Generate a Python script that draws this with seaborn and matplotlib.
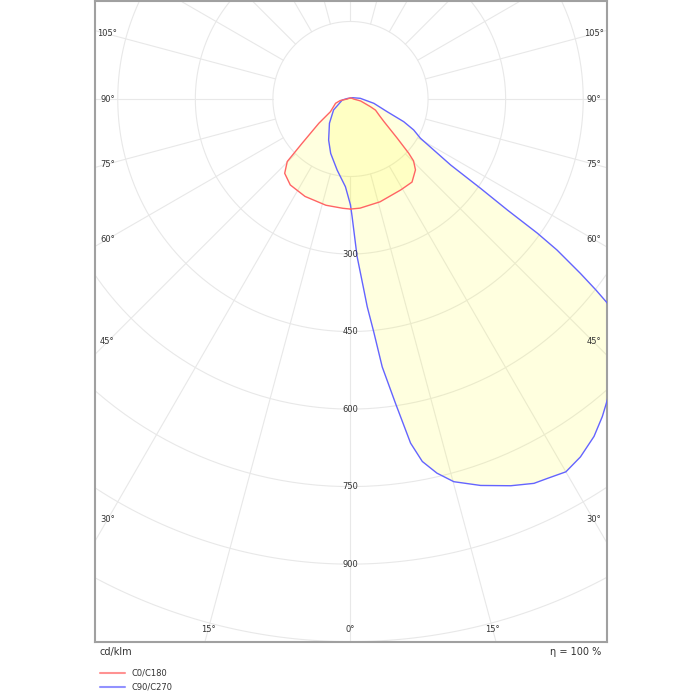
import numpy as np
import matplotlib.pyplot as plt
import seaborn as sns
from matplotlib.lines import Line2D

# luminous intensity, cd/klm, per gamma angle (0 = straight down)
c0_angles = [0, 5, 16, 29, 36.5, 42.5, 45.5, 47, 50, 56, 60, 66, 69, 79, 90, 120, 180]
c0_values = [213, 212, 207, 201, 200, 186, 171, 154, 118, 78, 65, 53, 41, 20, 6, 3, 2]

c180_angles = [0, 4, 13, 25, 35, 41.5, 45.3, 47.5, 52.5, 57.6, 74, 81.5, 90, 120, 180]
c180_values = [213, 212, 211, 208, 203, 192, 172, 127, 77, 46, 30, 20, 6, 3, 2]

c90_angles = [0, 0.8, 2.4, 4.0, 4.6, 5.7, 6.75, 8.4, 9.9, 11.2, 13.0, 15.1, 18.6, 22.5,
              25.5, 27.4, 30.0, 32.7, 35.8, 38.4, 40.5, 44, 48, 51.5, 52.1, 52.8, 53.8,
              54.3, 54.7, 55.5, 56.6, 60.7, 63.9, 66.9, 70.9, 79.5, 94, 120, 180]
c90_values = [205, 228, 305, 370, 403, 453, 522, 595, 676, 715, 743, 767, 789, 810,
              824, 827, 833, 823, 805, 784, 765, 735, 690, 635, 601, 558, 495,
              445, 372, 305, 232, 155, 136, 112, 75, 46, 19, 5, 2]

c270_angles = [0, 3.3, 10.6, 20, 28, 41, 57, 83, 100, 120, 180]
c270_values = [205, 170, 140, 112, 90, 62, 39, 16, 6, 3, 2]

ring_values = [150, 300, 450, 600, 750, 900, 1050, 1200]
ring_labels = [300, 450, 600, 750, 900]
angle_labels = [15, 30, 45, 60, 75, 90, 105]

red = "#ff6464"
blue = "#6464ff"
grid = "#e8e8e8"
txt = "#333333"


def outline(r_ang, r_val, l_ang, l_val):
    ra = np.radians(r_ang)
    la = np.radians(l_ang)[::-1]
    rv = np.array(r_val, dtype=float)
    lv = np.array(l_val, dtype=float)[::-1]
    x = np.concatenate([rv * np.sin(ra), -lv * np.sin(la)])
    y = np.concatenate([-rv * np.cos(ra), -lv * np.cos(la)])
    return x, y


sns.set_style("white")
fig = plt.figure(figsize=(7, 7), dpi=100)
ax = fig.add_axes([95 / 700, 58 / 700, 512 / 700, 641.5 / 700])

# polar grid
t = np.linspace(0, 2 * np.pi, 400)
for r in ring_values:
    ax.plot(r * np.sin(t), r * np.cos(t), color=grid, lw=0.8, zorder=1)
for a in range(0, 360, 15):
    ar = np.radians(a)
    ax.plot([150 * np.sin(ar), 1500 * np.sin(ar)], [-150 * np.cos(ar), -1500 * np.cos(ar)],
            color=grid, lw=0.8, zorder=1)

# curves
for (ra, rv, la, lv, col) in [(c90_angles, c90_values, c270_angles, c270_values, blue),
                              (c0_angles, c0_values, c180_angles, c180_values, red)]:
    x, y = outline(ra, rv, la, lv)
    ax.fill(x, y, color="#ffff20", alpha=0.14, lw=0, zorder=2)
    sns.lineplot(x=x, y=y, sort=False, estimator=None, color=col, lw=1.0, ax=ax,
                 legend=False, zorder=3)

# labels
for r in ring_labels:
    ax.text(0, -r, str(r), ha="center", va="center", fontsize=6, color=txt, zorder=4)
xin, ybot = 470, 1027
for a in angle_labels:
    ar = np.radians(a)
    s, c = np.sin(ar), np.cos(ar)
    d = xin / s
    if c > 0:
        d = min(d, ybot / c)
    for sign in (-1, 1):
        ax.text(sign * d * s, -d * c, f"{a}°", ha="center", va="center", fontsize=6,
                color=txt, zorder=4)
ax.text(0, -ybot, "0°", ha="center", va="center", fontsize=6, color=txt, zorder=4)

ax.set_xlim(-494, 496)
ax.set_ylim(-1050.7, 190.6)
ax.set_xticks([])
ax.set_yticks([])
ax.set_xlabel("")
ax.set_ylabel("")
for sp in ax.spines.values():
    sp.set_color("#a0a0a0")
    sp.set_linewidth(1.5)

fig.text(100 / 700, 48 / 700, "cd/klm", ha="left", va="center", fontsize=7, color=txt)
fig.text(601 / 700, 48 / 700, "η = 100 %", ha="right", va="center", fontsize=7, color=txt)

for yy, col, lab in [(27, red, "C0/C180"), (13, blue, "C90/C270")]:
    fig.add_artist(Line2D([100 / 700, 125 / 700], [yy / 700, yy / 700], color=col,
                          lw=1.5, alpha=0.7))
    fig.text(131 / 700, yy / 700, lab, ha="left", va="center", fontsize=6, color=txt)

fig.savefig("out.png", dpi=100)
